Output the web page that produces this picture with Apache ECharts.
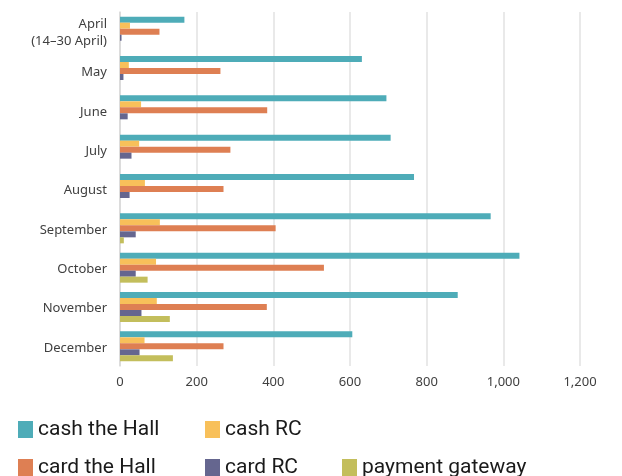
<!DOCTYPE html>
<html>
<head>
<meta charset="utf-8">
<script src="https://cdn.jsdelivr.net/npm/echarts@6/dist/echarts.min.js"></script>
<style>
  html, body { margin: 0; padding: 0; background: #fff; }
  #chart { width: 622px; height: 476px; }
</style>
</head>
<body>
<div id="chart"></div>
<script>
  // categories, top to bottom
  const months = ['April\n(14–30 April)', 'May', 'June', 'July', 'August',
    'September', 'October', 'November', 'December']

  const cashHall = [168, 631, 695, 706, 767, 967, 1042, 881, 606]
  const cashRC = [26, 23, 55, 50, 65, 104, 94, 96, 64]
  const cardHall = [103, 262, 384, 288, 270, 406, 532, 383, 270]
  const cardRC = [4, 9, 20, 30, 25, 41, 41, 56, 51]
  const gateway = [0, 0, 0, 0, 0, 10, 72, 130, 138]

  const xTicks = [0, 200, 400, 600, 800, 1000, 1200]

  const font = '"Noto Sans", sans-serif'
  const colors = ['#4eacb8', '#f8c05a', '#de7f53', '#65668f', '#c3be5c']

  const myChart = echarts.init(document.getElementById('chart'))

  function bar(name, data, color) {
    return {
      name: name,
      type: 'bar',
      data: data,
      barWidth: 6,
      barGap: '0%',
      itemStyle: { color: color },
      emphasis: { disabled: true }
    }
  }

  // one legend per item so the columns line up like the original
  function legendItem(name, left, top) {
    return {
      data: [name],
      left: left, top: top,
      padding: 0,
      icon: 'rect', itemWidth: 15, itemHeight: 17,
      textStyle: { fontFamily: 'Roboto, sans-serif', fontSize: 21, color: '#1a1a1a' }
    }
  }

  const option = {
    animation: false,
    textStyle: { fontFamily: font },
    grid: { left: 120, right: 42, top: 12, bottom: 110 },
    legend: [
      legendItem('cash the Hall', 18, 419),
      legendItem('cash RC', 205, 419),
      legendItem('card the Hall', 18, 457),
      legendItem('card RC', 205, 457),
      legendItem('payment gateway', 342, 457)
    ],
    xAxis: {
      type: 'value',
      min: xTicks[0],
      max: xTicks[xTicks.length - 1],
      interval: 200,
      axisLine: { show: false },
      axisTick: { show: false },
      axisLabel: {
        fontSize: 13, color: '#404040', margin: 10,
        formatter: v => v.toLocaleString('en-US')
      },
      splitLine: { lineStyle: { color: '#e2e2e2', width: 1.5 } }
    },
    yAxis: {
      type: 'category',
      data: months,
      inverse: true,
      axisLine: { show: true, lineStyle: { color: '#d9d9d9', width: 1.5 } },
      axisTick: { show: false },
      axisLabel: {
        margin: 13,
        formatter: v => v.split('\n').map(s => '{l|' + s + '}').join('\n'),
        rich: { l: { fontSize: 13, color: '#404040', lineHeight: 17, padding: [3, 0, 0, 0] } }
      }
    },
    series: [
      bar('cash the Hall', cashHall, colors[0]),
      bar('cash RC', cashRC, colors[1]),
      bar('card the Hall', cardHall, colors[2]),
      bar('card RC', cardRC, colors[3]),
      bar('payment gateway', gateway, colors[4])
    ]
  }
  myChart.setOption(option)
</script>
</body>
</html>
